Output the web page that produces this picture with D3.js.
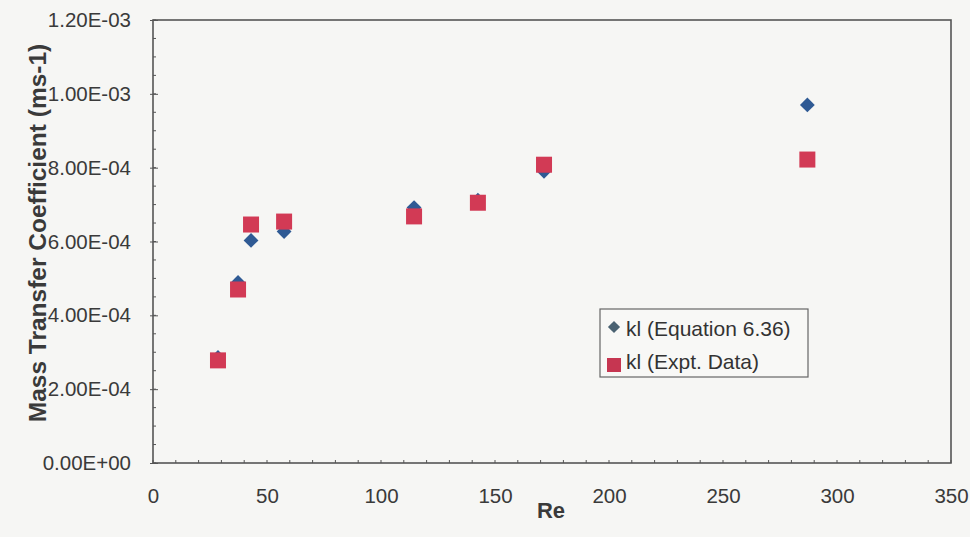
<!DOCTYPE html>
<html>
<head>
<meta charset="utf-8">
<script src="https://cdn.jsdelivr.net/npm/d3@7"></script>
<style>
  html, body { margin: 0; padding: 0; background: #f6f6f4; }
  svg { display: block; font-family: "Liberation Sans", Arial, sans-serif; }
</style>
</head>
<body>
<svg id="chart" width="970" height="537"></svg>
<script>
// Reynolds numbers of the runs
const reValues = [28.5, 37.3, 43, 57.5, 114.5, 142.5, 171.5, 287];
// kl predicted by Equation 6.36 (m/s)
const klEquation = [2.86e-4, 4.89e-4, 6.03e-4, 6.27e-4, 6.92e-4, 7.12e-4, 7.90e-4, 9.70e-4];
// kl from experimental data (m/s)
const klExpt = [2.78e-4, 4.70e-4, 6.46e-4, 6.54e-4, 6.68e-4, 7.05e-4, 8.08e-4, 8.22e-4];
const seriesNames = ["kl (Equation 6.36)", "kl (Expt. Data)"];
const xTickValues = [0, 50, 100, 150, 200, 250, 300, 350];
const yTickValues = [0, 2e-4, 4e-4, 6e-4, 8e-4, 1.0e-3, 1.2e-3];

const svg = d3.select("#chart");
const plotLeft = 153, plotRight = 951, plotTop = 20, plotBottom = 463;
const fontFamily = "'Liberation Sans', Arial, sans-serif";

const x = d3.scaleLinear().domain([0, 350]).range([plotLeft, plotRight]);
const y = d3.scaleLinear().domain([0, 1.2e-3]).range([plotBottom, plotTop]);

const textColor = "#3a3a3a";
const axisColor = "#555";

// plot frame
svg.append("rect")
  .attr("x", plotLeft).attr("y", plotTop)
  .attr("width", plotRight - plotLeft).attr("height", plotBottom - plotTop)
  .attr("fill", "none").attr("stroke", axisColor).attr("stroke-width", 1.6);

// minor ticks
const yMinor = d3.range(0, 1.2e-3 + 1e-9, 5e-5);
svg.append("g").selectAll("line").data(yMinor).join("line")
  .attr("x1", plotLeft).attr("x2", plotLeft + 3)
  .attr("y1", d => y(d)).attr("y2", d => y(d))
  .attr("stroke", axisColor).attr("stroke-width", 1);
const xMinor = d3.range(0, 351, 10);
svg.append("g").selectAll("line").data(xMinor).join("line")
  .attr("x1", d => x(d)).attr("x2", d => x(d))
  .attr("y1", plotBottom).attr("y2", plotBottom - 3)
  .attr("stroke", axisColor).attr("stroke-width", 1);

// y axis
const fmtExp = d => {
  const s = d3.format(".2e")(d).toUpperCase();
  return s.replace(/E([+-])(\d)$/, "E$10$2");
};
const yAxis = svg.append("g")
  .attr("transform", `translate(${plotLeft},0)`)
  .call(d3.axisLeft(y).tickValues(yTickValues).tickFormat(fmtExp).tickSize(4).tickPadding(18))
  .attr("font-family", fontFamily).attr("font-size", 20.5);
yAxis.select(".domain").remove();
yAxis.selectAll("line").attr("stroke", axisColor).attr("x2", -3).attr("x1", 5);
yAxis.selectAll("text").attr("fill", textColor);

// x axis
const xAxis = svg.append("g")
  .attr("transform", `translate(0,${plotBottom})`)
  .call(d3.axisBottom(x).tickValues(xTickValues).tickSize(0).tickPadding(25))
  .attr("font-family", fontFamily).attr("font-size", 20.5);
xAxis.select(".domain").remove();
xAxis.selectAll("text").attr("fill", textColor);

// axis titles
svg.append("text")
  .attr("x", 551).attr("y", 518)
  .attr("text-anchor", "middle")
  .attr("fill", textColor).style("font-size", "22px").style("font-weight", "bold")
  .text("Re");
svg.append("text")
  .attr("transform", `translate(46,233) rotate(-90)`)
  .attr("text-anchor", "middle")
  .attr("fill", textColor).style("font-size", "24.5px").style("font-weight", "bold")
  .text("Mass Transfer Coefficient (ms-1)");

const diamond = d3.symbol().type(d3.symbolDiamond2).size(140);
const blue = "#2f5a94";
const red = "#d23a55";

// Equation 6.36 series
svg.append("g").selectAll("path").data(reValues).join("path")
  .attr("d", diamond)
  .attr("transform", (d, i) => `translate(${x(d)},${y(klEquation[i])})`)
  .attr("fill", blue);

// Experimental series
const sq = 16;
svg.append("g").selectAll("rect").data(reValues).join("rect")
  .attr("x", d => x(d) - sq / 2)
  .attr("y", (d, i) => y(klExpt[i]) - sq / 2)
  .attr("width", sq).attr("height", sq)
  .attr("fill", red);

// legend
const lg = svg.append("g").attr("transform", "translate(600,309)");
lg.append("rect").attr("width", 208).attr("height", 68)
  .attr("fill", "#f8f8f6").attr("stroke", "#666").attr("stroke-width", 1.2);
lg.append("path").attr("d", d3.symbol().type(d3.symbolDiamond2).size(95))
  .attr("transform", "translate(14,18)").attr("fill", "#4a6272");
lg.append("rect").attr("x", 7).attr("y", 49).attr("width", 14).attr("height", 14)
  .attr("fill", "#c63651");
lg.selectAll("text.lbl").data(seriesNames).join("text")
  .attr("class", "lbl")
  .attr("x", 26).attr("y", (d, i) => 27 + i * 33)
  .attr("fill", "#333").style("font-size", "21px")
  .text(d => d);
</script>
</body>
</html>
